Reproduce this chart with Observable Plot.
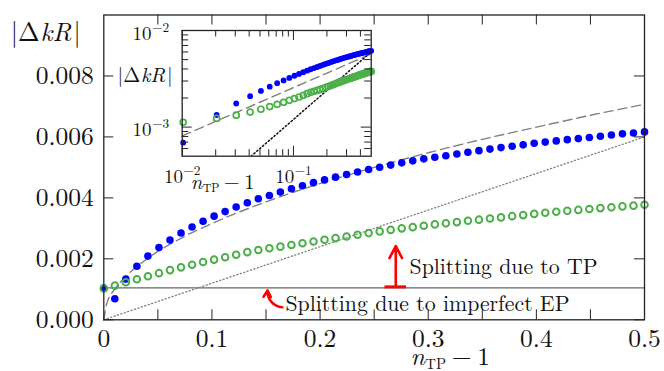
<!DOCTYPE html>
<html>
<head>
<meta charset="utf-8">
<script src="https://cdn.jsdelivr.net/npm/d3@7"></script>
<script src="https://cdn.jsdelivr.net/npm/@observablehq/plot@0.6"></script>
<style>
  body { margin: 0; background: #fff; }
  #wrap { position: relative; width: 664px; height: 371px; overflow: hidden; }
  #wrap svg { position: absolute; left: 0; top: 0; }
</style>
</head>
<body>
<div id="wrap"></div>
<script>
// ---------------- data ----------------
const nTPminus1 = [0, 0.0102, 0.0204, 0.0306, 0.0408, 0.0510, 0.0612, 0.0714, 0.0816, 0.0918,
  0.1020, 0.1122, 0.1224, 0.1327, 0.1429, 0.1531, 0.1633, 0.1735, 0.1837, 0.1939,
  0.2041, 0.2143, 0.2245, 0.2347, 0.2449, 0.2551, 0.2653, 0.2755, 0.2857, 0.2959,
  0.3061, 0.3163, 0.3265, 0.3367, 0.3469, 0.3571, 0.3673, 0.3776, 0.3878, 0.3980,
  0.4082, 0.4184, 0.4286, 0.4388, 0.4490, 0.4592, 0.4694, 0.4796, 0.4898, 0.5];

// blue filled dots
const dkrBlue = [0.00104, 0.00069, 0.001335, 0.001755, 0.00209, 0.00237, 0.00262, 0.00285, 0.003045, 0.00323,
  0.00340, 0.00355, 0.00370, 0.00384, 0.00397, 0.00408, 0.00419, 0.00430, 0.00440, 0.00450,
  0.00459, 0.00468, 0.004765, 0.00485, 0.00493, 0.005005, 0.005075, 0.00515, 0.005215, 0.00528,
  0.005335, 0.00538, 0.00544, 0.005495, 0.00555, 0.00560, 0.00565, 0.005695, 0.00574, 0.00579,
  0.00583, 0.00587, 0.00591, 0.005945, 0.00598, 0.00602, 0.006065, 0.00610, 0.00613, 0.006165];

// green open circles
const dkrGreen = [0.00103, 0.00112, 0.00123, 0.00133, 0.00143, 0.00153, 0.00163, 0.00172, 0.001805, 0.001895,
  0.001975, 0.00205, 0.002135, 0.00222, 0.00229, 0.002345, 0.00240, 0.002455, 0.00251, 0.00257,
  0.002625, 0.00268, 0.002735, 0.00279, 0.002845, 0.00290, 0.00295, 0.00300, 0.00304, 0.003085,
  0.00313, 0.003165, 0.003205, 0.00325, 0.003285, 0.003325, 0.00336, 0.00340, 0.003435, 0.003475,
  0.00351, 0.003545, 0.003575, 0.003605, 0.003635, 0.003665, 0.00369, 0.00372, 0.003745, 0.003775];

// dashed guide (main panel)
const dashedX = [0, 0.0025, 0.01, 0.02, 0.04, 0.07, 0.1, 0.15, 0.2, 0.25, 0.3, 0.35, 0.4, 0.45, 0.5];
const dashedY = [0, 0.0005, 0.001, 0.00141, 0.002, 0.00265, 0.00316, 0.00387, 0.00447, 0.005, 0.00548, 0.00592, 0.00632, 0.00671, 0.00707];
// dotted guide
const dottedMainX = [0, 0.5];
const dottedMainY = [0, 0.006];
const dottedX = [0.01, 0.5];
const dottedY = [0.00012, 0.006];
// dashed guide (inset)
const insetDashedX = [0.01, 0.5];
const insetDashedY = [0.00081, 0.00573];
// horizontal line: splitting due to imperfect EP
const epLevel = 0.00105;

// ticks
const xTickLabels = [0, 0.1, 0.2, 0.3, 0.4, 0.5];
const xTickMarks = [0.05, 0.1, 0.15, 0.2, 0.25, 0.3, 0.35, 0.4, 0.45];
const yTickLabels = [0, 0.002, 0.004, 0.006, 0.008];
const insetXMajor = [0.01, 0.1];
const insetXMinor = [0.02, 0.03, 0.04, 0.05, 0.06, 0.07, 0.08, 0.09, 0.2, 0.3, 0.4];
const insetYMajor = [0.001, 0.01];
const insetYMinor = [0.0006, 0.0007, 0.0008, 0.0009, 0.002, 0.003, 0.004, 0.005, 0.006, 0.007, 0.008, 0.009];

// annotations
const tpArrow = {x: 0.27, y1: 0.00108, y2: 0.00242, barX1: 0.26, barX2: 0.28};
const epArrow = {x1: 0.165, y1: 0.00041, x2: 0.1515, y2: 0.00096};
const notes = [
  {x: 0.2827, y: 0.00151, text: "Splitting due to TP"},
  {x: 0.168, y: 0.000305, text: "Splitting due to imperfect EP"}
];

// ---------------- layout ----------------
const FONT = "Latin Modern Roman";
const W = 664, H = 371;
const mL = 103.3, mR = 20, mT = 14.5, mB = 51.7;
const pw = W - mL - mR, ph = H - mT - mB;
const iL = 181.7, iR = W - 370.7, iT = 30, iB = H - 155.7;
const ipw = W - iL - iR, iph = H - iT - iB;
const BLUE = "#0000ff", GREEN = "#4daf4a", FRAME = "#222", INK = "#111";

const pts = nTPminus1.map((x, i) => ({x, b: dkrBlue[i], g: dkrGreen[i]}));
const dashed = dashedX.map((x, i) => ({x, y: dashedY[i]}));
const dottedMain = dottedMainX.map((x, i) => ({x, y: dottedMainY[i]}));
const dottedInset = dottedX.map((x, i) => ({x, y: dottedY[i]}));
const dashedInset = insetDashedX.map((x, i) => ({x, y: insetDashedY[i]}));

const main = Plot.plot({
  width: W, height: H,
  marginLeft: mL, marginRight: mR, marginTop: mT, marginBottom: mB,
  style: {background: "transparent", color: INK, fontFamily: FONT},
  x: {domain: [0, 0.5], label: null},
  y: {domain: [0, 0.01], label: null},
  marks: [
    Plot.ruleY([epLevel], {stroke: "#666", strokeWidth: 1.3}),
    Plot.line(dottedMain, {x: "x", y: "y", stroke: "#808080", strokeWidth: 1.3, strokeDasharray: "1.2,2.4"}),
    Plot.line(dashed, {x: "x", y: "y", stroke: "#808080", strokeWidth: 1.4, strokeDasharray: "9,5", curve: "monotone-x"}),
    Plot.dot(pts, {x: "x", y: "b", r: 3.8, fill: BLUE, stroke: "none"}),
    Plot.dot(pts, {x: "x", y: "g", r: 3.3, stroke: GREEN, strokeWidth: 2, fill: "none"}),
    // inward ticks
    Plot.ruleX(xTickMarks, {insetTop: ph - 10, stroke: FRAME, strokeWidth: 1}),
    Plot.ruleX(xTickMarks, {insetBottom: ph - 10, stroke: FRAME, strokeWidth: 1}),
    Plot.ruleY(yTickLabels, {insetRight: pw - 10, stroke: FRAME, strokeWidth: 1}),
    Plot.ruleY(yTickLabels, {insetLeft: pw - 10, stroke: FRAME, strokeWidth: 1}),
    Plot.frame({stroke: FRAME, strokeWidth: 1.3}),
    Plot.axisX(xTickLabels, {tickSize: 0, tickPadding: 9, fontSize: 25.5, fontFamily: FONT, label: null,
      tickFormat: d => d === 0 ? "0" : d.toFixed(1)}),
    Plot.axisY(yTickLabels, {tickSize: 0, tickPadding: 10, fontSize: 25.5, fontFamily: FONT, label: null,
      tickFormat: d3.format(".3f")}),
    // annotations
    Plot.ruleY([tpArrow], {y: "y1", x1: "barX1", x2: "barX2", stroke: "red", strokeWidth: 3}),
    Plot.arrow([tpArrow], {x1: "x", x2: "x", y1: "y1", y2: "y2", stroke: "red", strokeWidth: 2.6, headLength: 10, headAngle: 55}),
    Plot.arrow([epArrow], {x1: "x1", y1: "y1", x2: "x2", y2: "y2", bend: 45, stroke: "red", strokeWidth: 2.6, headLength: 7, headAngle: 60}),
    Plot.text(notes, {x: "x", y: "y", text: "text", textAnchor: "start", lineAnchor: "bottom", fontSize: 21.8, fontFamily: FONT, fill: INK}),
    // axis titles
    Plot.text([{x: 0.2836, t: "nTP−1"}], {x: "x", text: "t", frameAnchor: "bottom", dy: 45,
      textAnchor: "start", lineAnchor: "bottom", fontSize: 25.5, fontFamily: FONT, fill: INK}),
    Plot.text([{t: "|ΔkR|"}], {text: "t", frameAnchor: "top-left", dx: -93, dy: 26,
      textAnchor: "start", lineAnchor: "bottom", fontSize: 26, fontFamily: FONT, fill: INK})
  ]
});

const supFmt = d => "10^−" + Math.round(-Math.log10(d));

const inset = Plot.plot({
  width: W, height: H,
  marginLeft: iL, marginRight: iR, marginTop: iT, marginBottom: iB,
  style: {background: "transparent", color: INK, fontFamily: FONT},
  x: {type: "log", domain: [0.01, 0.5], label: null},
  y: {type: "log", domain: [0.0005, 0.01], label: null},
  marks: [
    Plot.line(dashedInset, {x: "x", y: "y", stroke: "#808080", strokeWidth: 1.4, strokeDasharray: "9,5"}),
    Plot.line(dottedInset, {x: "x", y: "y", stroke: "#111", strokeWidth: 1.5, strokeDasharray: "1.4,2.4", clip: true}),
    Plot.dot(pts.slice(1), {x: "x", y: "b", r: 2.9, fill: BLUE, stroke: "none"}),
    Plot.dot(pts.slice(1), {x: "x", y: "g", r: 3, stroke: GREEN, strokeWidth: 1.7, fill: "none"}),
    Plot.ruleX(insetXMajor, {insetTop: iph - 10, stroke: FRAME}),
    Plot.ruleX(insetXMajor, {insetBottom: iph - 10, stroke: FRAME}),
    Plot.ruleX(insetXMinor, {insetTop: iph - 6.5, stroke: FRAME}),
    Plot.ruleX(insetXMinor, {insetBottom: iph - 6.5, stroke: FRAME}),
    Plot.ruleY(insetYMajor, {insetRight: ipw - 10, stroke: FRAME}),
    Plot.ruleY(insetYMajor, {insetLeft: ipw - 10, stroke: FRAME}),
    Plot.ruleY(insetYMinor, {insetRight: ipw - 6.5, stroke: FRAME}),
    Plot.ruleY(insetYMinor, {insetLeft: ipw - 6.5, stroke: FRAME}),
    Plot.frame({stroke: FRAME, strokeWidth: 1.3}),
    Plot.axisX(insetXMajor, {tickSize: 0, tickPadding: 13, fontSize: 19, fontFamily: FONT, label: null, tickFormat: supFmt}),
    Plot.axisY(insetYMajor, {tickSize: 0, tickPadding: 13, fontSize: 19, fontFamily: FONT, label: null, dy: 3, tickFormat: supFmt}),
    Plot.text([{t: "nTP−1"}], {text: "t", frameAnchor: "bottom-left", dx: 8.5, dy: 32.3,
      textAnchor: "start", lineAnchor: "bottom", fontSize: 20.5, fontFamily: FONT, fill: INK}),
    Plot.text([{t: "|ΔkR|"}], {text: "t", frameAnchor: "top-left", dx: -64.7, dy: 51.7,
      textAnchor: "start", lineAnchor: "bottom", fontSize: 20.5, fontFamily: FONT, fill: INK})
  ]
});

for (const svg of [main, inset]) {
  svg.setAttribute("font-family", FONT);
}

const wrap = document.getElementById("wrap");
wrap.appendChild(main);
wrap.appendChild(inset);

// ---------- rich text (italics, sub/superscripts) ----------
const NS = "http://www.w3.org/2000/svg";
function span(parent, txt, attrs) {
  const s = document.createElementNS(NS, "tspan");
  for (const k in attrs) s.setAttribute(k, attrs[k]);
  s.textContent = txt;
  parent.appendChild(s);
}
for (const svg of [main, inset]) {
  svg.querySelectorAll("text").forEach(t => {
    const s = t.textContent;
    const fs = parseFloat(getComputedStyle(t).fontSize) || 16;
    if (s === "|ΔkR|") {
      t.textContent = "";
      span(t, "|Δ", {});
      span(t, "kR", {"font-style": "italic", dx: (0.03 * fs).toFixed(2)});
      span(t, "|", {dx: (0.08 * fs).toFixed(2)});
    } else if (s === "nTP−1") {
      t.textContent = "";
      span(t, "n", {"font-style": "italic"});
      span(t, "TP", {"font-size": (0.58 * fs).toFixed(2), dy: (0.15 * fs).toFixed(2), dx: (0.02 * fs).toFixed(2)});
      span(t, "−", {dy: (-0.15 * fs).toFixed(2), dx: (0.22 * fs).toFixed(2)});
      span(t, "1", {dx: (0.22 * fs).toFixed(2)});
    } else if (s.startsWith("10^")) {
      t.textContent = "";
      span(t, "10", {});
      span(t, s.slice(3), {"font-size": (0.7 * fs).toFixed(2), dy: (-0.42 * fs).toFixed(2), dx: (0.03 * fs).toFixed(2)});
    }
  });
}
</script>
</body>
</html>
